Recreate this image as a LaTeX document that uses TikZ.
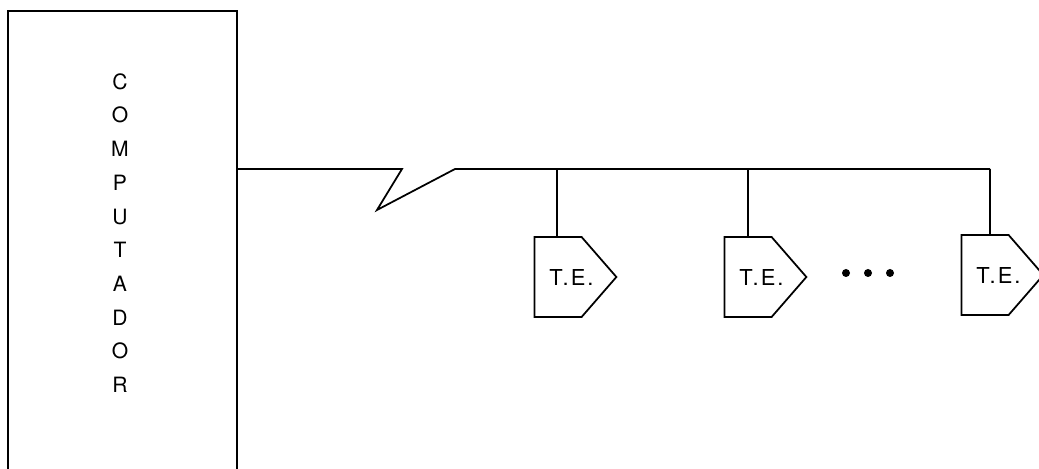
\documentclass[tikz,border=0pt]{standalone}
\usepackage{fontspec}
\setmainfont{TeX Gyre Heros}
\usetikzlibrary{shapes.symbols}

\begin{document}
\begin{tikzpicture}[
  x=0.02cm,y=-0.02cm,
  font=\fontsize{12.5}{15}\selectfont,
  wire/.style={line width=1pt},
  term/.style={signal,signal to=east,signal pointer angle=98,draw,line width=1pt,
    minimum width=1.64cm,minimum height=1.6cm,inner sep=1pt,
    label={[xshift=0.27cm,font=\fontsize{12.5}{15}\selectfont\addfontfeature{LetterSpace=9}]center:#1}},
  dot/.style={circle,fill,inner sep=0pt,minimum size=1.6mm}
]
\useasboundingbox (0,0) rectangle (1039,469);
\draw[wire] (8,469) -- (8,11) -- (237,11) -- (237,469);
\node[align=center,font=\fontsize{12}{19.2}\selectfont] (comp) at (120,233)
  {C\\O\\M\\P\\U\\T\\A\\D\\O\\R};
\coordinate (port) at (237,169); \coordinate (zigA) at (402,169);
\coordinate (zigB) at (377,210); \coordinate (zigC) at (455,169);
\coordinate (tap1) at (557,169); \coordinate (tap2) at (748,169);
\coordinate (tap3) at (990,169);
\node[term=T.E.] (te1) at (558,277) {};
\node[term=T.E.] (te2) at (748,277) {};
\node[term=T.E.] (te3) at (985,275) {};
\foreach \x/\n in {846/1,868/2,890/3} \node[dot] (dot\n) at (\x,273) {};
\draw[wire] (port) -- (zigA) -- (zigB) -- (zigC) -- (tap3);
\draw[wire] (tap1) -- (tap1 |- te1.north);
\draw[wire] (tap2) -- (tap2 |- te2.north);
\draw[wire] (tap3) -- (tap3 |- te3.north);
\end{tikzpicture}
\end{document}
